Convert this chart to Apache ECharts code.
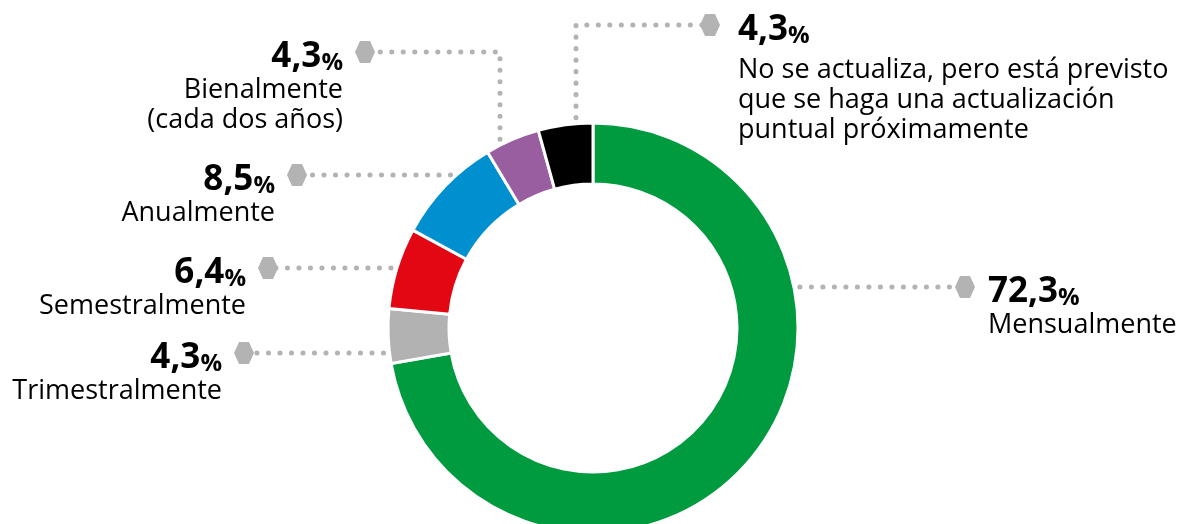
<!DOCTYPE html>
<html>
<head>
<meta charset="utf-8">
<script src="https://cdn.jsdelivr.net/npm/echarts@6/dist/echarts.min.js"></script>
<style>
  html, body { margin: 0; padding: 0; background: #fff; }
  #chart { width: 1190px; height: 524px; }
</style>
</head>
<body>
<div id="chart"></div>
<script>
// data, clockwise from 12 o'clock
const categories = [
  ['Mensualmente'],
  ['Trimestralmente'],
  ['Semestralmente'],
  ['Anualmente'],
  ['Bienalmente', '(cada dos años)'],
  ['No se actualiza, pero está previsto', 'que se haga una actualización', 'puntual próximamente']
]
const values = [72.3, 4.3, 6.4, 8.5, 4.3, 4.3]
const colors = ['#009a3f', '#b2b2b2', '#e30613', '#008fcf', '#985ea0', '#000000']

// donut geometry
const CX = 593, CY = 328, R_IN = 144, R_OUT = 205

// where each label's hexagon sits; vx = leader goes up first at this x
const labelSpots = [
  { side: 'right', hx: 965, hy: 287 },
  { side: 'left', hx: 244, hy: 353 },
  { side: 'left', hx: 268, hy: 268 },
  { side: 'left', hx: 297, hy: 175 },
  { side: 'left', hx: 365, hy: 52, vx: 500 },
  { side: 'right', hx: 710, hy: 25, vx: 576, wide: true }
]

const FONT = 'Open Sans'

// grey hexagon drawn once, used as a rich-text image
function hexImage() {
  const c = document.createElement('canvas')
  c.width = 20
  c.height = 30
  const g = c.getContext('2d')
  g.fillStyle = '#b3b3b3'
  g.beginPath()
  g.moveTo(5, 0); g.lineTo(15, 0); g.lineTo(20, 11)
  g.lineTo(15, 22); g.lineTo(5, 22); g.lineTo(0, 11)
  g.closePath()
  g.fill()
  return c
}
const hex = hexImage()

function fmt(v) {
  return v.toFixed(1).replace('.', ',')
}

const chart = echarts.init(document.getElementById('chart'))
chart.setOption({
  animation: false,
  series: [{
    type: 'pie',
    center: [CX, CY],
    radius: [R_IN, R_OUT],
    startAngle: 90,
    clockwise: true,
    avoidLabelOverlap: false,
    silent: true,
    itemStyle: { borderColor: '#fff', borderWidth: 3 },
    emphasis: { disabled: true },
    data: values.map((v, i) => ({ value: v, name: categories[i].join(' '), itemStyle: { color: colors[i] } })),
    label: {
      show: true,
      position: 'outside',
      overflow: 'none',
      fontFamily: FONT,
      fontSize: 27,
      lineHeight: 30,
      color: '#000',
      formatter: function (p) {
        const i = p.dataIndex
        const spot = labelSpots[i]
        const left = spot.side === 'left'
        const num = '{v|' + fmt(values[i]) + '}{p|%}'
        const head = left ? num + '{sL|}{h|}' : '{h|}' + (spot.wide ? '{sW|}' : '{sR|}') + num
        const lines = categories[i].map(t => left ? '{d|' + t + '}{eL|}' : (spot.wide ? '{eW|}' : '{eR|}') + '{d|' + t + '}')
        if (spot.wide) lines.unshift('{g|}')
        return [head].concat(lines).join('\n')
      },
      rich: {
        v: { fontFamily: FONT, fontWeight: 'bold', fontSize: 35, color: '#000', lineHeight: 38, verticalAlign: 'bottom' },
        p: { fontFamily: FONT, fontWeight: 'bold', fontSize: 24, color: '#000', lineHeight: 30, verticalAlign: 'bottom' },
        h: { width: 20, height: 30, backgroundColor: { image: hex }, verticalAlign: 'middle' },
        g: { width: 1, height: 7, lineHeight: 7 },
        sL: { width: 12 },
        sR: { width: 13 },
        sW: { width: 18 },
        eL: { width: 32 },
        eR: { width: 33 },
        eW: { width: 38 },
        d: { fontFamily: FONT, fontSize: 27, color: '#000', lineHeight: 30 }
      }
    },
    labelLine: {
      show: true,
      smooth: false,
      lineStyle: { color: '#b3b3b3', width: 5, type: [0.1, 11.4], cap: 'round' }
    },
    labelLayout: function (p) {
      const s = labelSpots[p.dataIndex]
      const left = s.side === 'left'
      let pts
      if (s.vx != null) {
        const yEdge = CY - Math.sqrt(R_OUT * R_OUT - (s.vx - CX) * (s.vx - CX)) - 6
        pts = [[s.vx, yEdge], [s.vx, s.hy], [s.hx, s.hy]]
      } else {
        const dx = Math.sqrt(R_OUT * R_OUT - (s.hy - CY) * (s.hy - CY)) + 6
        pts = [[left ? CX - dx : CX + dx, s.hy], [s.hx, s.hy]]
      }
      return {
        x: left ? s.hx + 10 : s.hx - 10,
        y: s.hy - 15,
        align: left ? 'right' : 'left',
        verticalAlign: 'top',
        width: 600,
        labelLinePoints: pts
      }
    }
  }]
})
</script>
</body>
</html>
